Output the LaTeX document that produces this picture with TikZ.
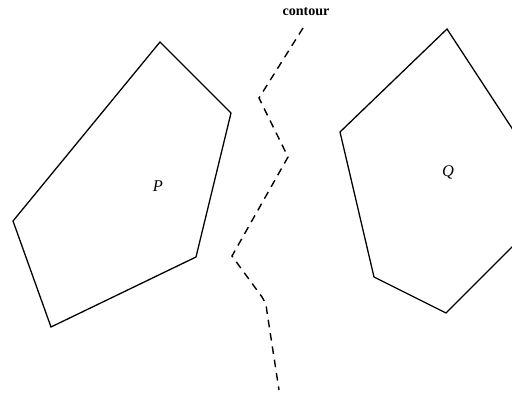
\documentclass[tikz,border=0pt]{standalone}
\usepackage{fontspec}
\setmainfont{Liberation Serif}
\usepackage{tikz}
\usetikzlibrary{positioning}

\begin{document}
\begin{tikzpicture}[
        x=0.03cm, y=-0.03cm,
        poly/.style={draw, line width=1.1pt, line join=miter},
        cont/.style={draw, line width=1.2pt, dash pattern=on 6.5pt off 5pt},
        lbl/.style={font=\fontsize{14}{16}\selectfont\itshape},
        tag/.style={font=\fontsize{12}{14}\selectfont\bfseries, inner sep=1pt}
      ]
      \clip (0,0) rectangle (512,399);
      % polygon P
      \draw[poly] (160,42) -- (231,113) -- (196,257) -- (51,327) -- (13,221) -- cycle;
      % polygon Q (runs past the right edge)
      \draw[poly] (447,29) -- (559,200) -- (446,313) -- (374,277) -- (340,132) -- cycle;
      \node[lbl] (p) at (158,186) {P};
      \node[lbl] (q) at (448,172) {Q};
      % the dashed contour
      \node[tag] (contour) at (306,12) {contour};
      \coordinate (c0) at (303,28);
      \coordinate (c5) at (279,390);
      \draw[cont] (c0) -- (259,98) -- (288,157) -- (232,256) -- (262,297)
        .. controls (266,304) .. (267,312) -- (c5);
    \end{tikzpicture}
\end{document}
